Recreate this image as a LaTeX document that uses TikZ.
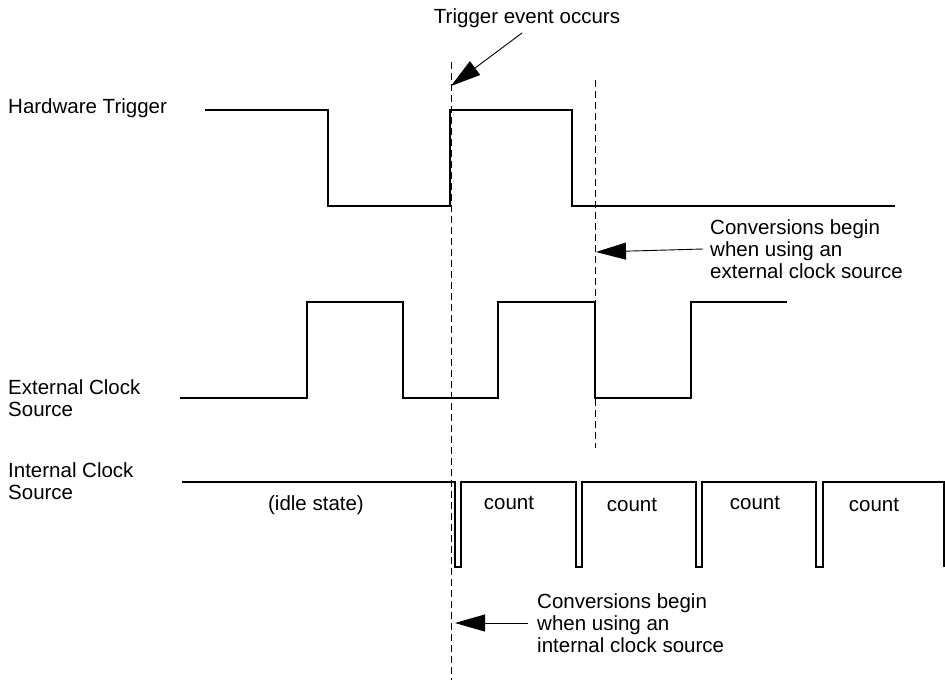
\documentclass[tikz,border=0pt]{standalone}
\usepackage{fontspec}
\setmainfont{Liberation Sans}
\usetikzlibrary{arrows.meta}

\begin{document}
\begin{tikzpicture}[x=1pt,y=-1pt,font=\fontsize{20.5}{22}\selectfont,
    wave/.style={line width=1.1pt,line join=miter},
    marker/.style={line width=0.9pt,dash pattern=on 7pt off 4pt},
    pointer/.style={line width=0.9pt,-{Triangle[length=30pt,width=17pt]}}]

      \useasboundingbox (0,0) rectangle (945,683);

      \node[anchor=west,inner sep=0pt] (hw) at (8,108){Hardware Trigger};
      \node[anchor=west,inner sep=0pt,align=left] (ext) at (8,398){External Clock\\Source};
      \node[anchor=west,inner sep=0pt,align=left] (int) at (8,481){Internal Clock\\Source};
      \node[inner sep=0pt] (idle) at (316,505){(idle state)};
      \node[inner sep=0pt] (c1) at (509,503){count};
      \node[inner sep=0pt] (c2) at (632,505){count};
      \node[inner sep=0pt] (c3) at (755,503){count};
      \node[inner sep=0pt] (c4) at (874,505){count};

      \node[inner sep=0pt] (trig) at (527,18){Trigger event occurs};
      \node[anchor=west,inner xsep=7pt,inner ysep=0pt,align=left] (extnote) at (703,249){Conversions begin\\when using an\\external clock source};
      \node[anchor=west,inner xsep=9pt,inner ysep=0pt,align=left] (intnote) at (528,623){Conversions begin\\when using an\\internal clock source};

      \coordinate (trigtail) at (522,33);
      \coordinate (trigtip) at (451,86);
      \coordinate (exttip) at (596,252);
      \coordinate (inttip) at (455,623);

      % dashed markers
      \draw[marker] (451,62) -- (451,680);
      \draw[marker] (595,80) -- (595,448);

      % waveforms
      \draw[wave] (205,110) -- (328,110) -- (328,206) -- (450,206) -- (450,110)
                  -- (572,110) -- (572,206) -- (895,206);
      \draw[wave] (180,398) -- (307,398) -- (307,302) -- (403,302) -- (403,398)
                  -- (498,398) -- (498,302) -- (595,302) -- (595,398)
                  -- (691,398) -- (691,302) -- (787,302);
      \draw[wave] (182,482) -- (455,482) -- (455,567) -- (461,567) -- (461,482)
                  -- (576,482) -- (576,567) -- (582,567) -- (582,482)
                  -- (696,482) -- (696,567) -- (702,567) -- (702,482)
                  -- (816,482) -- (816,567) -- (823,567) -- (823,482)
                  -- (944,482) -- (944,567);

      \draw[pointer] (trigtail) -- (trigtip);
      \draw[pointer] (extnote.west) -- (exttip);
      \draw[pointer] (intnote.west) -- (inttip);
    \end{tikzpicture}
\end{document}
